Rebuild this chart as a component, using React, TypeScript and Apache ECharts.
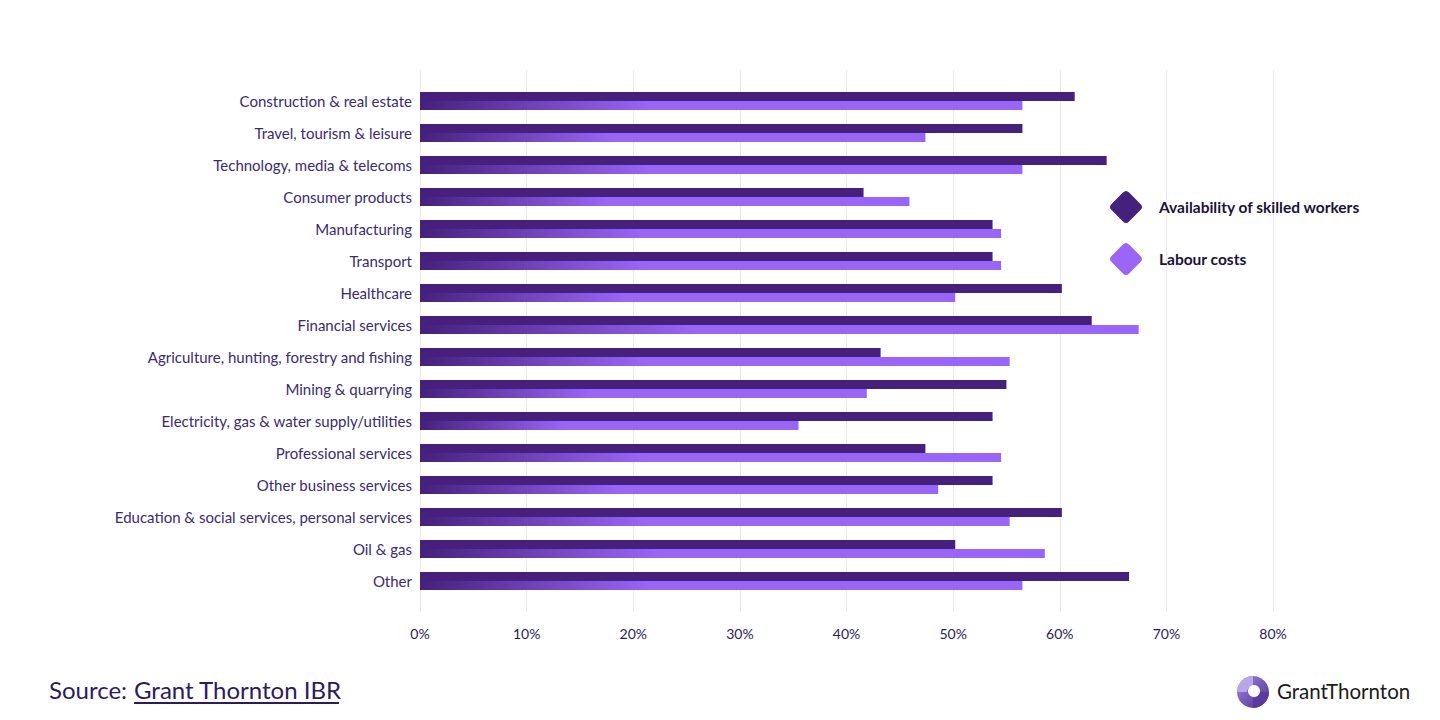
import React, { useEffect, useRef } from "react";
import * as echarts from "echarts";

const categories = [
  "Construction & real estate",
  "Travel, tourism & leisure",
  "Technology, media & telecoms",
  "Consumer products",
  "Manufacturing",
  "Transport",
  "Healthcare",
  "Financial services",
  "Agriculture, hunting, forestry and fishing",
  "Mining & quarrying",
  "Electricity, gas & water supply/utilities",
  "Professional services",
  "Other business services",
  "Education & social services, personal services",
  "Oil & gas",
  "Other",
];

const skilledWorkers = [61.4, 56.5, 64.4, 41.6, 53.7, 53.7, 60.2, 63.0, 43.2, 55.0, 53.7, 47.4, 53.7, 60.2, 50.2, 66.5];
const labourCosts = [56.5, 47.4, 56.5, 45.9, 54.5, 54.5, 50.2, 67.4, 55.3, 41.9, 35.5, 54.5, 48.6, 55.3, 58.6, 56.5];

const seriesNames = ["Availability of skilled workers", "Labour costs"];
const xTicks = { min: 0, max: 80, interval: 10 };

const FONT = "Lato";
const diamond =
  "path://M13,2 Q16,-1 19,2 L30,13 Q33,16 30,19 L19,30 Q16,33 13,30 L2,19 Q-1,16 2,13 Z";

export default function App() {
  const ref = useRef<HTMLDivElement>(null);

  useEffect(() => {
    if (!ref.current) return;
    const chart = echarts.init(ref.current, undefined, { renderer: "svg" });
    const option: any = {
      animation: false,
      backgroundColor: "#ffffff",
      textStyle: { fontFamily: FONT },
      grid: [
        { left: 420, right: 167, top: 85, bottom: 123 },
        { left: 420, right: 167, top: 70, bottom: 108 },
      ],
      xAxis: [
        {
          type: "value",
          gridIndex: 0,
          min: xTicks.min,
          max: xTicks.max,
          interval: xTicks.interval,
          show: false,
        },
        {
          type: "value",
          gridIndex: 1,
          min: xTicks.min,
          max: xTicks.max,
          interval: xTicks.interval,
          axisLine: { show: false },
          axisTick: { show: false },
          splitLine: { show: true, lineStyle: { color: "#ebebeb", width: 1 } },
          axisLabel: {
            formatter: "{value}%",
            color: "#2a1d55",
            fontSize: 14,
            fontFamily: FONT,
            margin: 14,
          },
        },
      ],
      yAxis: [
        {
          type: "category",
          gridIndex: 0,
          data: categories,
          inverse: true,
          axisLine: { show: false },
          axisTick: { show: false },
          splitLine: { show: false },
          axisLabel: {
            color: "#3b2a73",
            fontSize: 15,
            fontFamily: FONT,
            margin: 8,
          },
        },
        { type: "value", gridIndex: 1, show: false, min: 0, max: 1 },
      ],
      legend: {
        orient: "vertical",
        left: 1110,
        top: 191,
        padding: 0,
        itemWidth: 32,
        itemHeight: 32,
        itemGap: 20,
        selectedMode: false,
        data: [
          { name: seriesNames[0], icon: diamond, itemStyle: { color: "#45207c" } },
          { name: seriesNames[1], icon: diamond, itemStyle: { color: "#9966f5" } },
        ],
        textStyle: {
          fontFamily: FONT,
          fontSize: 15.5,
          fontWeight: "bold",
          color: "#1c1238",
          padding: [0, 0, 0, 12],
        },
      },
      series: [
        {
          name: seriesNames[0],
          type: "bar",
          xAxisIndex: 0,
          yAxisIndex: 0,
          data: skilledWorkers,
          barWidth: 9,
          barGap: "0%",
          itemStyle: { color: "#45207c" },
        },
        {
          name: seriesNames[1],
          type: "bar",
          xAxisIndex: 0,
          yAxisIndex: 0,
          data: labourCosts,
          barWidth: 9,
          barGap: "0%",
          itemStyle: {
            color: new echarts.graphic.LinearGradient(0, 0, 1, 0, [
              { offset: 0, color: "#45207c" },
              { offset: 0.38, color: "#9865f8" },
              { offset: 1, color: "#9865f8" },
            ]),
          },
        },
      ],
      graphic: [
        {
          type: "text",
          left: 49,
          top: 677,
          style: { text: "Source:", fontFamily: FONT, fontSize: 24, fill: "#2d1b5e" },
        },
        {
          type: "text",
          left: 134,
          top: 677,
          style: { text: "Grant Thornton IBR", fontFamily: FONT, fontSize: 24, fill: "#2d1b5e" },
        },
        {
          type: "line",
          shape: { x1: 134, y1: 703, x2: 339, y2: 703 },
          style: { stroke: "#2d1b5e", lineWidth: 2 },
        },
        {
          type: "group",
          children: [
            {
              type: "circle",
              shape: { cx: 1253, cy: 692, r: 16 },
              style: {
                fill: new echarts.graphic.LinearGradient(0, 0, 1, 1, [
                  { offset: 0, color: "#a48be0" },
                  { offset: 1, color: "#4b2a8c" },
                ]),
              },
            },
            {
              type: "sector",
              shape: { cx: 1253, cy: 692, r: 16, r0: 6, startAngle: 0, endAngle: Math.PI / 2 },
              style: { fill: "#5a3a9e" },
            },
            {
              type: "sector",
              shape: { cx: 1253, cy: 692, r: 16, r0: 6, startAngle: Math.PI, endAngle: Math.PI * 1.5 },
              style: { fill: "#b9a6ea" },
            },
            {
              type: "circle",
              shape: { cx: 1254, cy: 691, r: 6 },
              style: { fill: "#ffffff" },
            },
          ],
        },
        {
          type: "text",
          left: 1277,
          top: 680,
          style: { text: "GrantThornton", fontFamily: "Lato", fontSize: 20.5, fill: "#1a1a1a" },
        },
      ],
    };
    chart.setOption(option);
    return () => chart.dispose();
  }, []);

  return (
    <div
      ref={ref}
      style={{ position: "fixed", left: 0, top: 0, width: 1440, height: 720 }}
    />
  );
}
